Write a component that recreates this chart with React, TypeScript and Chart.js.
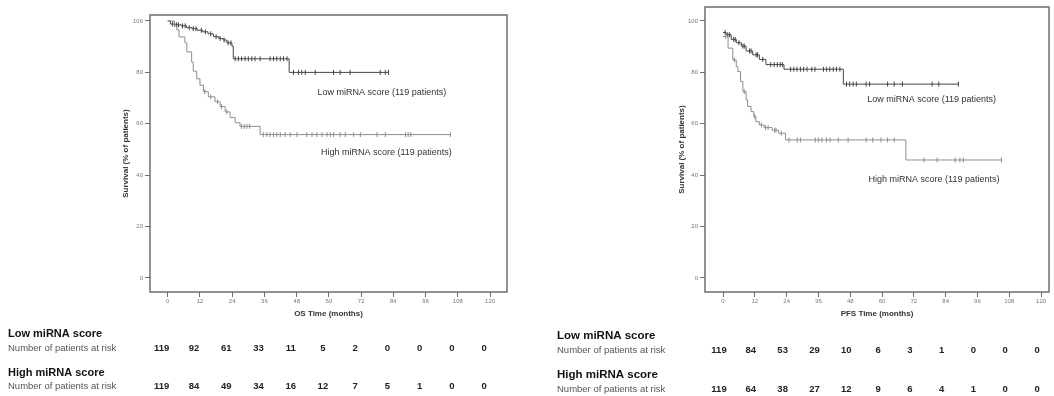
import React, { useEffect, useRef } from "react";
import { Chart, registerables } from "chart.js";

Chart.register(...registerables);

const FONT = "'Liberation Sans', Arial, Helvetica, sans-serif";

// ---- axes ----
const xTicks = [0, 12, 24, 36, 48, 60, 72, 84, 96, 108, 120];
const yTicks = [0, 20, 40, 60, 80, 100];

// ---- OS curves ----
const osLowTimes = [0, 1, 3, 5, 7, 9, 11, 13, 15, 17, 19, 20.6, 22, 23.9, 24.4, 45.2, 82.2];
const osLowSurv = [100, 98.8, 98.5, 98.1, 97.4, 97, 96.4, 95.8, 95, 93.9, 93.2, 92.6, 91.5, 90.2, 85.3, 80, 80];
const osLowCensor = [1.8, 2.5, 3.3, 4, 5.5, 6.5, 8, 9.5, 10.5, 12.5, 14, 16, 18, 19.5, 21, 22.5, 23.5,
  25.1, 26.3, 27.5, 28.8, 30, 31.3, 32.5, 34.4, 38.1, 39.4, 40.6, 41.9, 43.1, 44.4,
  46.8, 48.7, 49.9, 51.2, 54.9, 61.7, 64.2, 67.9, 79.1, 81.0, 82.2];

const osHighTimes = [0, 2.5, 3.4, 4.2, 6.4, 7.1, 8.9, 9.5, 10.8, 12, 13.3, 15.1, 17.6, 19.5, 21.4, 23.2, 25.1, 26.9, 34.4, 105.2];
const osHighSurv = [100, 98, 96.5, 93.8, 91.5, 88, 84, 80.5, 77.5, 75, 72.5, 70.5, 68.6, 66.7, 64.6, 62.5, 60.4, 59, 55.8, 55.8];
const osHighCensor = [13.8, 16, 18.5, 20, 22, 27.5, 28.5, 29.5, 30.5,
  35.6, 36.9, 38.1, 39.4, 40.6, 41.9, 43.7, 45.6, 48.1, 51.8, 53.7, 55.5, 57.4, 59.3, 60.5, 61.7,
  64.2, 66.1, 69.2, 71.7, 77.9, 81, 88.5, 89.5, 90.5, 105.2];

// ---- PFS curves ----
const pfsLowTimes = [0, 1.2, 3.1, 5, 6.9, 8.7, 11.2, 13.7, 16.2, 23, 45.4, 88.8];
const pfsLowSurv = [95.5, 94.6, 92.8, 91.5, 90.2, 88.3, 86.8, 85, 83, 81.2, 75.4, 75.4];
const pfsLowCensor = [0.8, 1.8, 2.5, 4, 4.6, 6, 7.5, 8, 10, 10.6, 12.5, 13, 15,
  18, 19.3, 20.5, 21.6, 22.4,
  25.5, 26.7, 27.9, 29.2, 30.4, 31.7, 33.5, 34.7, 37.9, 39.1, 40.3, 41.6, 42.8, 44.1,
  46.6, 47.8, 49.1, 50.3, 54.0, 55.3, 62.1, 64.6, 67.7, 78.9, 81.4, 88.8];

const pfsHighTimes = [0, 1.9, 3.7, 5.0, 5.6, 6.6, 7.5, 8.7, 9.3, 10.6, 11.6, 12.4, 13.7, 15.5, 18.5, 21, 23.6, 69, 105];
const pfsHighSurv = [93.9, 89.4, 84.8, 82.2, 80.3, 76.4, 72.5, 69.3, 66.7, 64.7, 62.8, 60.8, 59.5, 58.5, 57.5, 56.3, 53.7, 45.9, 45.9];
const pfsHighCensor = [1, 4.3, 8, 12, 14.5, 16, 17, 19.5, 20, 22,
  24.9, 28, 29.2, 34.8, 36, 37.3, 39.1, 40.4, 43.5, 47.2, 54, 56.5, 59.6, 62.1, 64.6,
  75.8, 80.8, 87.6, 89.4, 90.7, 105];

// ---- numbers at risk ----
const riskTimes = [0, 12, 24, 36, 48, 60, 72, 84, 96, 108, 120];
const osLowRisk = [119, 92, 61, 33, 11, 5, 2, 0, 0, 0, 0];
const osHighRisk = [119, 84, 49, 34, 16, 12, 7, 5, 1, 0, 0];
const pfsLowRisk = [119, 84, 53, 29, 10, 6, 3, 1, 0, 0, 0];
const pfsHighRisk = [119, 64, 38, 27, 12, 9, 6, 4, 1, 0, 0];

const LOW_COLOR = "#454545";
const HIGH_COLOR = "#8e8e8e";
const FRAME_COLOR = "#6e6e6e";

function stepAt(times: number[], surv: number[], t: number) {
  let v = surv[0];
  for (let i = 0; i < times.length; i++) if (times[i] <= t) v = surv[i];
  return v;
}

type Panel = {
  left: number;
  width: number;
  padTop: number;
  padRight: number;
  yWidth: number;
  yTitleX: number;
  xMin: number;
  xMax: number;
  yMin: number;
  yMax: number;
  xTitle: string;
  lowTimes: number[];
  lowSurv: number[];
  lowCensor: number[];
  highTimes: number[];
  highSurv: number[];
  highCensor: number[];
  lowRisk: number[];
  highRisk: number[];
  labels: { text: string; x: number; y: number }[];
  tableX: number;
  tableY: number[];
  groupSize: number;
  riskDx: number;
};

const panels: Panel[] = [
  {
    left: 0, width: 527, padTop: 15, padRight: 20, yWidth: 150, yTitleX: 126,
    xMin: -6.6, xMax: 126.3, yMin: -5.45, yMax: 102.33, xTitle: "OS Time (months)",
    lowTimes: osLowTimes, lowSurv: osLowSurv, lowCensor: osLowCensor,
    highTimes: osHighTimes, highSurv: osHighSurv, highCensor: osHighCensor,
    lowRisk: osLowRisk, highRisk: osHighRisk,
    labels: [
      { text: "Low miRNA score (119 patients)", x: 79.7, y: 72 },
      { text: "High miRNA score (119 patients)", x: 81.4, y: 49 },
    ],
    tableX: 8, tableY: [334, 348, 373, 386], groupSize: 11, riskDx: -6,
  },
  {
    left: 527, width: 527, padTop: 7, padRight: 1, yWidth: 178, yTitleX: 154.7,
    xMin: -6.8, xMax: 123, yMin: -5.45, yMax: 105.4, xTitle: "PFS Time (months)",
    lowTimes: pfsLowTimes, lowSurv: pfsLowSurv, lowCensor: pfsLowCensor,
    highTimes: pfsHighTimes, highSurv: pfsHighSurv, highCensor: pfsHighCensor,
    lowRisk: pfsLowRisk, highRisk: pfsHighRisk,
    labels: [
      { text: "Low miRNA score (119 patients)", x: 78.7, y: 69.6 },
      { text: "High miRNA score (119 patients)", x: 79.6, y: 38.4 },
    ],
    tableX: 30, tableY: [336, 350, 375, 389], groupSize: 11.5, riskDx: -4,
  },
];

function makeChart(canvas: HTMLCanvasElement, p: Panel) {
  const H = 396;
  const chartBottom = 292;
  const framePlugin = {
    id: "frame",
    beforeDatasetsDraw(chart: any) {
      const { ctx, chartArea } = chart;
      ctx.save();
      ctx.strokeStyle = FRAME_COLOR;
      ctx.lineWidth = 1.5;
      ctx.strokeRect(chartArea.left, chartArea.top, chartArea.right - chartArea.left, chartArea.bottom - chartArea.top);
      ctx.restore();
    },
    afterDraw(chart: any) {
      const { ctx } = chart;
      const xs = chart.scales.x;
      const ys = chart.scales.y;
      ctx.save();
      ctx.textBaseline = "middle";
      ctx.textAlign = "center";
      ctx.fillStyle = "#333";
      ctx.font = `9px ${FONT}`;
      for (const l of p.labels) {
        ctx.fillText(l.text, xs.getPixelForValue(l.x), ys.getPixelForValue(l.y));
      }
      // at-risk table
      ctx.textAlign = "left";
      ctx.fillStyle = "#111";
      ctx.font = `bold ${p.groupSize}px ${FONT}`;
      ctx.fillText("Low miRNA score", p.tableX, p.tableY[0]);
      ctx.fillText("High miRNA score", p.tableX, p.tableY[2]);
      ctx.fillStyle = "#555";
      ctx.font = `9.5px ${FONT}`;
      ctx.fillText("Number of patients at risk", p.tableX, p.tableY[1]);
      ctx.fillText("Number of patients at risk", p.tableX, p.tableY[3]);
      ctx.textAlign = "center";
      ctx.fillStyle = "#222";
      ctx.font = `bold 9.5px ${FONT}`;
      riskTimes.forEach((t, i) => {
        const px = xs.getPixelForValue(t) + p.riskDx;
        ctx.fillText(String(p.lowRisk[i]), px, p.tableY[1]);
        ctx.fillText(String(p.highRisk[i]), px, p.tableY[3]);
      });
      ctx.restore();
    },
  };

  const lineDs = (times: number[], surv: number[], color: string) => ({
    data: times.map((t, i) => ({ x: t, y: surv[i] })),
    showLine: true,
    stepped: "before" as const,
    borderColor: color,
    borderWidth: 1,
    pointRadius: 0,
    fill: false,
  });
  const censorDs = (cens: number[], times: number[], surv: number[], color: string) => ({
    data: cens.map((t) => ({ x: t, y: stepAt(times, surv, t) })),
    showLine: false,
    pointStyle: "line" as const,
    pointRotation: 90,
    rotation: 90,
    pointRadius: 2.5,
    borderColor: color,
    pointBorderColor: color,
    pointBorderWidth: 1,
    borderWidth: 1,
  });

  return new Chart(canvas, {
    type: "scatter",
    data: {
      datasets: [
        lineDs(p.highTimes, p.highSurv, HIGH_COLOR),
        censorDs(p.highCensor, p.highTimes, p.highSurv, HIGH_COLOR),
        lineDs(p.lowTimes, p.lowSurv, LOW_COLOR),
        censorDs(p.lowCensor, p.lowTimes, p.lowSurv, LOW_COLOR),
      ] as any,
    },
    options: {
      responsive: false,
      animation: false,
      devicePixelRatio: 1,
      layout: { padding: { left: 0, top: p.padTop, right: p.padRight, bottom: 0 } },
      plugins: { legend: { display: false }, tooltip: { enabled: false } },
      scales: {
        x: {
          type: "linear",
          min: p.xMin,
          max: p.xMax,
          afterBuildTicks: (s: any) => { s.ticks = xTicks.map((v) => ({ value: v })); },
          afterFit: (s: any) => { s.height = H - chartBottom; },
          grid: { drawOnChartArea: false, drawTicks: true, tickLength: 5, color: FRAME_COLOR, lineWidth: 1 },
          border: { display: false },
          ticks: { font: { family: FONT, size: 6 }, color: "#777", padding: 1, maxRotation: 0, autoSkip: false },
          title: {
            display: true, text: p.xTitle, color: "#333",
            font: { family: FONT, size: 8, weight: "bold" },
            padding: { top: 0, bottom: 77.2 },
          },
        },
        y: {
          type: "linear",
          min: p.yMin,
          max: p.yMax,
          afterBuildTicks: (s: any) => { s.ticks = yTicks.map((v) => ({ value: v })); },
          afterFit: (s: any) => { s.width = p.yWidth; },
          grid: { drawOnChartArea: false, drawTicks: true, tickLength: 5, color: FRAME_COLOR, lineWidth: 1 },
          border: { display: false },
          ticks: { font: { family: FONT, size: 6 }, color: "#777", padding: 2, autoSkip: false },
          title: {
            display: true, text: "Survival (% of patients)", color: "#333",
            font: { family: FONT, size: 8, weight: "bold" },
            padding: { top: p.yTitleX - 4.8, bottom: 0 },
          },
        },
      },
    } as any,
    plugins: [framePlugin],
  });
}

export default function App() {
  const leftRef = useRef<HTMLCanvasElement>(null);
  const rightRef = useRef<HTMLCanvasElement>(null);

  useEffect(() => {
    const charts: Chart[] = [];
    if (leftRef.current) charts.push(makeChart(leftRef.current, panels[0]));
    if (rightRef.current) charts.push(makeChart(rightRef.current, panels[1]));
    return () => charts.forEach((c) => c.destroy());
  }, []);

  return (
    <div style={{ position: "absolute", left: 0, top: 0, width: 1054, height: 396, background: "#fff", overflow: "hidden" }}>
      <canvas ref={leftRef} width={527} height={396} style={{ position: "absolute", left: 0, top: 0, width: 527, height: 396 }} />
      <canvas ref={rightRef} width={527} height={396} style={{ position: "absolute", left: 527, top: 0, width: 527, height: 396 }} />
    </div>
  );
}
